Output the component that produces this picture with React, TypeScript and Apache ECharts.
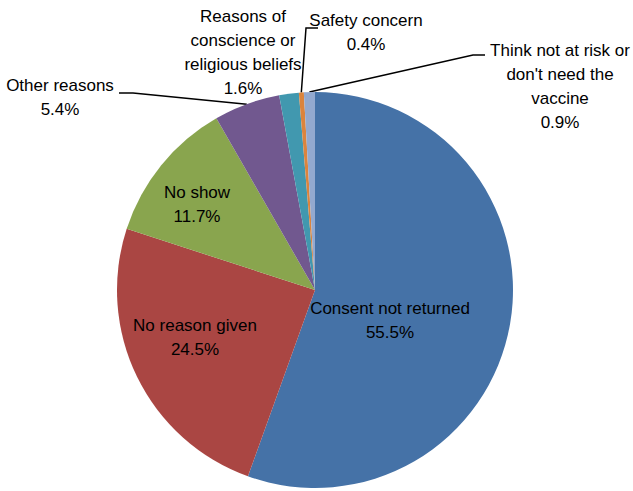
import React, { useEffect, useRef } from "react";
import * as echarts from "echarts";

const categories = [
  "Consent not returned",
  "No reason given",
  "No show",
  "Other reasons",
  "Reasons of conscience or religious beliefs",
  "Safety concern",
  "Think not at risk or don't need the vaccine",
];
const values = [55.5, 24.5, 11.7, 5.4, 1.6, 0.4, 0.9];
const labelTexts = [
  "Consent not returned",
  "No reason given",
  "No show",
  "Other reasons",
  "Reasons of\nconscience or\nreligious beliefs",
  "Safety concern",
  "Think not at risk or\ndon't need the\nvaccine",
];
const colors = ["#4572A7", "#AA4643", "#89A54E", "#71588F", "#4198AF", "#DB843D", "#93A9CF"];
const insideIdx = [0, 1, 2];

// label layout (positions are styling)
const labelPos: number[][] = [
  [390, 320],
  [195, 337],
  [197, 204],
  [60, 97],
  [243, 52],
  [366, 32],
  [560, 86],
];
const linePts: (number[][] | null)[] = [
  null,
  null,
  null,
  [[133, 93], [119, 93]],
  null,
  [[306, 28], [318, 28]],
  [[473, 55], [485, 55]],
];

export default function App() {
  const ref = useRef<HTMLDivElement>(null);
  useEffect(() => {
    document.body.style.margin = "0";
    const chart = echarts.init(ref.current!, undefined, { renderer: "svg" });
    const data = categories.map((name, i) => ({
      name,
      value: values[i],
      itemStyle: { color: colors[i] },
      label: { position: insideIdx.includes(i) ? "inside" : "outside" },
      labelLine: { show: linePts[i] !== null },
    }));
    chart.setOption({
      animation: false,
      series: [
        {
          type: "pie",
          center: [315, 290],
          radius: 198,
          startAngle: 90,
          clockwise: true,
          avoidLabelOverlap: false,
          minShowLabelAngle: 0,
          data,
          itemStyle: { borderWidth: 0 },
          emphasis: { disabled: true },
          label: {
            show: true,
            color: "#000",
            fontFamily: "'Liberation Sans', Arial, sans-serif",
            fontSize: 17,
            lineHeight: 24,
            align: "center",
            formatter: (p: any) => labelTexts[p.dataIndex] + "\n" + values[p.dataIndex].toFixed(1) + "%",
          },
          labelLine: {
            show: true,
            lineStyle: { color: "#000", width: 1.5 },
          },
          labelLayout: (params: any) => {
            const i = params.dataIndex;
            const res: any = {
              x: labelPos[i][0],
              y: labelPos[i][1],
              align: "center",
              verticalAlign: "middle",
            };
            const lp = linePts[i];
            if (lp && params.labelLinePoints) {
              res.labelLinePoints = [params.labelLinePoints[0], lp[0], lp[1]];
            }
            return res;
          },
        },
      ],
    });
    return () => chart.dispose();
  }, []);
  return <div ref={ref} style={{ width: 633, height: 491 }} />;
}
